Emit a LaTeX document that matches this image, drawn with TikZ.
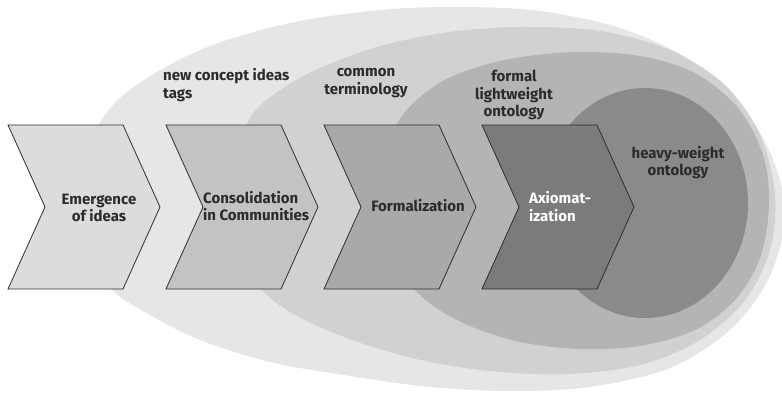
\documentclass[tikz,border=0pt]{standalone}
\usepackage{fontspec}
\setmainfont{Fira Sans}
\definecolor{layA}{HTML}{E6E6E6}
\definecolor{layB}{HTML}{D1D1D1}
\definecolor{layC}{HTML}{B4B4B4}
\definecolor{layD}{HTML}{8A8A8A}
\definecolor{chA}{HTML}{DCDCDC}
\definecolor{chB}{HTML}{C3C3C3}
\definecolor{chC}{HTML}{A9A9A9}
\definecolor{chD}{HTML}{7B7B7B}
\definecolor{edge}{HTML}{2E2E2E}
\definecolor{ink}{HTML}{2B2B2B}
\begin{document}
\begin{tikzpicture}[x=1pt,y=-1pt,
  chevron/.style={draw=edge, line width=0.8pt, line join=miter},
  caption/.style={font=\bfseries\fontsize{15}{17.5}\selectfont, text=ink, inner sep=0pt},
  layer/.style={smooth cycle, tension=0.55}]
\useasboundingbox (0,0) rectangle (782,392);
\clip (0,0) rectangle (782,392);

% nested maturity layers, outermost first
\fill[layA] plot[layer] coordinates {(87,200) (93,140) (112,106) (150,76) (210,46) (290,23) (380,10) (460,7) (540,11) (620,28) (690,60) (745,110) (777,170) (784,225) (768,280) (730,330) (670,368) (590,387) (510,391) (430,387) (350,376) (270,362) (200,340) (150,315) (112,290) (93,255)};
\fill[layB] plot[layer] coordinates {(236,205) (239,150) (252,115) (280,90) (320,68) (380,46) (450,32) (520,27) (600,31) (670,50) (725,85) (760,135) (775,195) (770,250) (745,300) (700,340) (640,365) (570,374) (500,372) (430,362) (370,346) (315,325) (275,302) (250,275) (239,240)};
\fill[layC] plot[layer] coordinates {(385,205) (389,150) (398,122) (420,97) (455,75) (510,59) (575,52) (640,56) (695,73) (738,108) (763,155) (769,205) (760,258) (735,300) (695,330) (640,346) (580,349) (520,342) (470,326) (432,305) (407,280) (391,245)};
\fill[layD] (645,203) ellipse [x radius=103, y radius=115];

% process chevrons
\foreach \l/\c in {8/chA, 166/chB, 324/chC, 482/chD}
  \draw[chevron, fill=\c] (\l,125) -- ++(115,0) -- ++(37,82) -- ++(-37,82) -- ++(-115,0) -- ++(37,-82) -- cycle;

% chevron captions
\node[caption, align=center] (emerge) at (99,207.7) {Emergence\\of ideas};
\node[caption, align=left, anchor=west] (consol) at (203,206) {Consolidation\\in Communities};
\node[caption] (formal) at (418,205.8) {Formalization};
\node[caption, align=left, anchor=west, text=white] (axiom) at (529,206.6) {Axiomat-\\ization};

% layer captions
\node[caption, align=left, anchor=west] (ideas) at (163,85) {new concept ideas\\tags};
\node[caption, align=center] (terms) at (366,83) {common\\terminology};
\node[caption, align=center] (light) at (514,95) {formal\\lightweight\\ontology};
\node[caption, align=center] (heavy) at (678,162.5) {heavy-weight\\ontology};
\end{tikzpicture}
\end{document}
